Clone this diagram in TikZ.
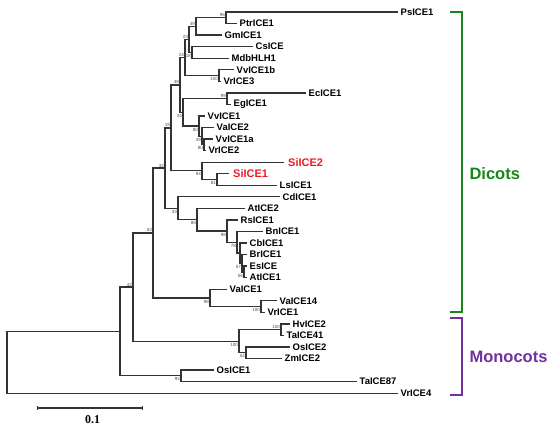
\documentclass[tikz,border=0pt]{standalone}
\usepackage{fontspec}
\setmainfont{Liberation Sans}
\newfontfamily\barfont{Liberation Serif}
\usetikzlibrary{positioning}
\definecolor{dicotgreen}{RGB}{22,135,22}
\definecolor{monopurple}{RGB}{112,48,160}
\definecolor{sired}{RGB}{235,28,36}
\tikzset{
  branch/.style={line width=1.3pt, black!80},
  leaf/.style={anchor=west, inner xsep=2.5pt, inner ysep=0pt, font=\fontsize{9.5}{10}\selectfont\bfseries},
  silabel/.style={leaf, inner xsep=4pt, text=sired, font=\fontsize{11}{12}\selectfont\bfseries},
  boot/.style={inner sep=0.3pt, font=\fontsize{4.5}{5}\selectfont, text=black!70},
  grp/.style={anchor=west, font=\fontsize{16.5}{18}\selectfont\bfseries},
  bracket/.style={line width=2pt}
}
\begin{document}
\begin{tikzpicture}[x=1pt,y=-1pt]
\useasboundingbox (0,0) rectangle (550,433);

% leaves
\node[leaf] (PsICE1) at (398,12.0) {PsICE1};
\node[leaf] (PtrICE1) at (237,23.6) {PtrICE1};
\node[leaf] (GmICE1) at (222,35.1) {GmICE1};
\node[leaf] (CsICE) at (253,46.7) {CsICE};
\node[leaf] (MdbHLH1) at (229,58.2) {MdbHLH1};
\node[leaf] (VvICE1b) at (234,69.8) {VvICE1b};
\node[leaf] (VrICE3) at (221,81.3) {VrICE3};
\node[leaf] (EcICE1) at (306,92.9) {EcICE1};
\node[leaf] (EgICE1) at (231,104.4) {EgICE1};
\node[leaf] (VvICE1) at (205,116.0) {VvICE1};
\node[leaf] (VaICE2) at (214,127.5) {VaICE2};
\node[leaf] (VvICE1a) at (213,139.1) {VvICE1a};
\node[leaf] (VrICE2) at (206,150.6) {VrICE2};
\node[silabel] (SiICE2) at (284,162.2) {SiICE2};
\node[silabel] (SiICE1) at (229,173.7) {SiICE1};
\node[leaf] (LsICE1) at (277,185.3) {LsICE1};
\node[leaf] (CdICE1) at (280,196.8) {CdICE1};
\node[leaf] (AtICE2) at (245,208.4) {AtICE2};
\node[leaf] (RsICE1) at (238,219.9) {RsICE1};
\node[leaf] (BnICE1) at (263,231.5) {BnICE1};
\node[leaf] (CbICE1) at (247,243.0) {CbICE1};
\node[leaf] (BrICE1) at (247,254.6) {BrICE1};
\node[leaf] (EsICE) at (247,266.1) {EsICE};
\node[leaf] (AtICE1) at (247,277.7) {AtICE1};
\node[leaf] (VaICE1) at (227,289.2) {VaICE1};
\node[leaf] (VaICE14) at (277,300.8) {VaICE14};
\node[leaf] (VrICE1) at (265,312.3) {VrICE1};
\node[leaf] (HvICE2) at (290,323.9) {HvICE2};
\node[leaf] (TaICE41) at (284,335.4) {TaICE41};
\node[leaf] (OsICE2) at (290,347.0) {OsICE2};
\node[leaf] (ZmICE2) at (282,358.5) {ZmICE2};
\node[leaf] (OsICE1) at (214,370.1) {OsICE1};
\node[leaf] (TaICE87) at (357,381.6) {TaICE87};
\node[leaf] (VrICE4) at (398,393.2) {VrICE4};

% internal nodes
\coordinate (n96) at (226,17.8);
\coordinate (n49a) at (196,26.45);
\coordinate (n18) at (192,52.45);
\coordinate (n23) at (189,39.45);
\coordinate (n100a) at (219,75.55);
\coordinate (n24) at (185,57.5);
\coordinate (n99) at (227,98.65);
\coordinate (n80b) at (204,144.85);
\coordinate (n49b) at (202,136.2);
\coordinate (n80a) at (199,126.1);
\coordinate (n34) at (183,112.4);
\coordinate (n38) at (180,84.95);
\coordinate (n81) at (217,179.5);
\coordinate (n94) at (202,170.85);
\coordinate (n19) at (171,127.9);
\coordinate (nc) at (244,271.9);
\coordinate (nb) at (242,263.25);
\coordinate (na) at (240,253.1);
\coordinate (n78) at (237,242.3);
\coordinate (n98a) at (227,231.1);
\coordinate (n85) at (197,219.75);
\coordinate (n33) at (178,208.3);
\coordinate (n32) at (165,168.1);
\coordinate (n100b) at (261,306.55);
\coordinate (n98b) at (210,297.9);
\coordinate (n53) at (153,233.0);
\coordinate (n100h) at (281,329.65);
\coordinate (n54) at (246,352.75);
\coordinate (n100m) at (239,341.2);
\coordinate (n42) at (133,287.1);
\coordinate (n92) at (181,375.85);
\coordinate (n120) at (120,331.5);
\coordinate (root) at (7,362.35);

% branches
\draw[branch] (PsICE1) -| (n96) |- (PtrICE1);
\draw[branch] (n96) -| (n49a) |- (GmICE1);
\draw[branch] (CsICE) -| (n18) |- (MdbHLH1);
\draw[branch] (n49a) -| (n23) |- (n18);
\draw[branch] (VvICE1b) -| (n100a) |- (VrICE3);
\draw[branch] (n23) -| (n24) |- (n100a);
\draw[branch] (EcICE1) -| (n99) |- (EgICE1);
\draw[branch] (VvICE1a) -| (n80b) |- (VrICE2);
\draw[branch] (VaICE2) -| (n49b) |- (n80b);
\draw[branch] (VvICE1) -| (n80a) |- (n49b);
\draw[branch] (n99) -| (n34) |- (n80a);
\draw[branch] (n24) -| (n38) |- (n34);
\draw[branch] (SiICE1) -| (n81) |- (LsICE1);
\draw[branch] (SiICE2) -| (n94) |- (n81);
\draw[branch] (n38) -| (n19) |- (n94);
\draw[branch] (EsICE) -| (nc) |- (AtICE1);
\draw[branch] (BrICE1) -| (nb) |- (nc);
\draw[branch] (CbICE1) -| (na) |- (nb);
\draw[branch] (BnICE1) -| (n78) |- (na);
\draw[branch] (RsICE1) -| (n98a) |- (n78);
\draw[branch] (AtICE2) -| (n85) |- (n98a);
\draw[branch] (CdICE1) -| (n33) |- (n85);
\draw[branch] (n19) -| (n32) |- (n33);
\draw[branch] (VaICE14) -| (n100b) |- (VrICE1);
\draw[branch] (VaICE1) -| (n98b) |- (n100b);
\draw[branch] (n32) -| (n53) |- (n98b);
\draw[branch] (HvICE2) -| (n100h) |- (TaICE41);
\draw[branch] (OsICE2) -| (n54) |- (ZmICE2);
\draw[branch] (n100h) -| (n100m) |- (n54);
\draw[branch] (n53) -| (n42) |- (n100m);
\draw[branch] (OsICE1) -| (n92) |- (TaICE87);
\draw[branch] (n42) -| (n120) |- (n92);
\draw[branch] (n120) -| (root) |- (VrICE4);

% bootstrap values
\node[boot, above left=0.5pt and 0.5pt] (b96) at (n96) {96};
\node[boot, above left=0.5pt and 0.5pt] (b49a) at (n49a) {49};
\node[boot, above left=0.5pt and 0.5pt] (b23) at (n23) {23};
\node[boot, above left=0.5pt and 0.5pt] (b24) at (n24) {24};
\node[boot, above left=0.5pt and 0.5pt] (b38) at (n38) {38};
\node[boot, above left=0.5pt and 0.5pt] (b99) at (n99) {99};
\node[boot, above left=0.5pt and 0.5pt] (b19) at (n19) {19};
\node[boot, above left=0.5pt and 0.5pt] (b32) at (n32) {32};
\node[boot, above left=0.5pt and 0.5pt] (b53) at (n53) {53};
\node[boot, above left=0.5pt and 0.5pt] (b42) at (n42) {42};
\node[boot, above left=0.5pt and 0.5pt] (b100h) at (n100h) {100};
\node[boot, below left=1.5pt and 0.5pt] (b18) at (n18) {18};
\node[boot, below left=1.5pt and 0.5pt] (b100a) at (n100a) {100};
\node[boot, below left=1.5pt and 0.5pt] (b34) at (n34) {34};
\node[boot, below left=1.5pt and 0.5pt] (b80a) at (n80a) {80};
\node[boot, below left=1.5pt and 0.5pt] (b49b) at (n49b) {49};
\node[boot, below left=1.5pt and 0.5pt] (b80b) at (n80b) {80};
\node[boot, below left=1.5pt and 0.5pt] (b94) at (n94) {94};
\node[boot, below left=1.5pt and 0.5pt] (b81) at (n81) {81};
\node[boot, below left=1.5pt and 0.5pt] (b33) at (n33) {33};
\node[boot, below left=1.5pt and 0.5pt] (b85) at (n85) {85};
\node[boot, below left=1.5pt and 0.5pt] (b98a) at (n98a) {98};
\node[boot, below left=1.5pt and 0.5pt] (b78) at (n78) {78};
\node[boot, below left=1.5pt and 0.5pt] (b57) at (nb) {57};
\node[boot, below left=1.5pt and 0.5pt] (b56) at (nc) {56};
\node[boot, below left=1.5pt and 0.5pt] (b98b) at (n98b) {98};
\node[boot, below left=1.5pt and 0.5pt] (b100b) at (n100b) {100};
\node[boot, below left=1.5pt and 0.5pt] (b100m) at (n100m) {100};
\node[boot, below left=1.5pt and 0.5pt] (b54) at (n54) {54};
\node[boot, below left=1.5pt and 0.5pt] (b92) at (n92) {92};

% groups
\coordinate (dicT) at (450,12);
\coordinate (dicB) at (450,312);
\draw[bracket, dicotgreen] (dicT) -- ++(12,0) |- (dicB);
\node[grp, text=dicotgreen] (dicots) at (466,174) {Dicots};
\coordinate (monT) at (450,318);
\coordinate (monB) at (450,395);
\draw[bracket, monopurple] (monT) -- ++(12,0) |- (monB);
\node[grp, text=monopurple] (monocots) at (466,357) {Monocots};

% scale bar
\coordinate (sbL) at (37,408);
\coordinate (sbR) at (142,408);
\draw[branch] (sbL) -- (sbR);
\draw[branch, line width=0.8pt] (sbL) ++(0,-2) -- ++(0,4);
\draw[branch, line width=0.8pt] (sbR) ++(0,-2) -- ++(0,4);
\node[font=\barfont\bfseries\fontsize{12}{14}\selectfont] (sbT) at (92.5,420) {0.1};

\end{tikzpicture}
\end{document}
